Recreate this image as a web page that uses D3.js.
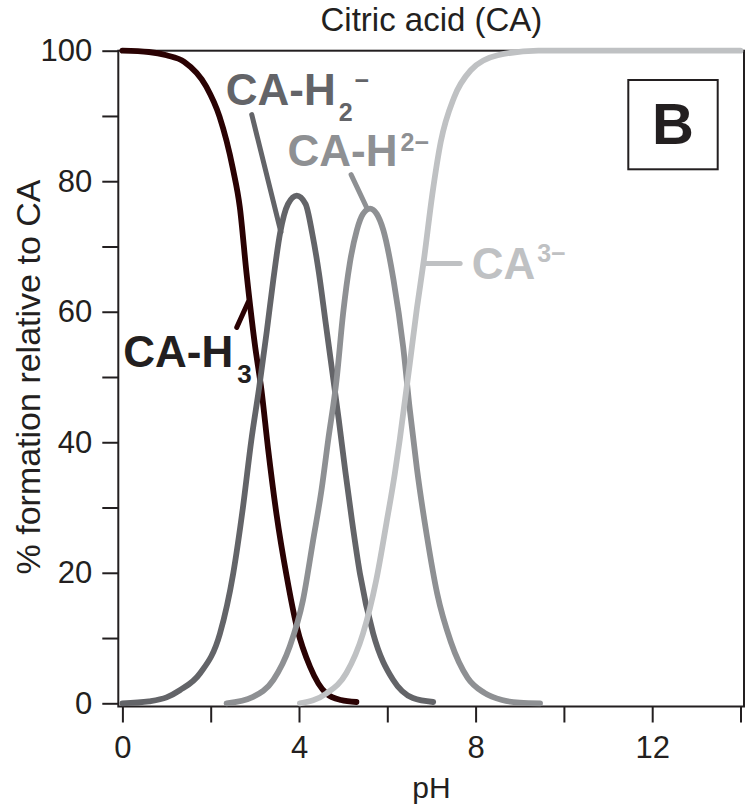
<!DOCTYPE html>
<html>
    <head>
        <meta charset="utf-8">
        <script src="https://d3js.org/d3.v7.min.js"></script>
        <style>
            body { margin: 0; background: #fff; }
            text { font-family: "Liberation Sans", Arial, Helvetica, sans-serif; }
        </style>
    </head>
    <body>
        <div id="my_dataviz"></div>
        <script>

            // values (pH, % formation)
            var caH3_pH  = [0, 0.6, 1.0, 1.4, 1.9, 2.2, 2.5, 2.66, 2.81, 3.0, 3.15, 3.3, 3.49, 3.72, 3.95, 4.25, 4.62, 4.95, 5.3];
            var caH3_pct = [100, 99.8, 99.3, 98.3, 94.5, 89.9, 82, 76, 66, 55, 48, 39, 29, 19.5, 11.7, 5.6, 1.5, 0.5, 0.2];

            var caH2_pH  = [0, 0.6, 1.0, 1.3, 1.76, 2.21, 2.51, 2.73, 2.92, 3.1, 3.27, 3.42, 3.57, 3.75, 3.95, 4.15, 4.3, 4.45, 4.6, 4.75, 4.9, 5.05, 5.2, 5.38, 5.68, 6.13, 6.58, 7.04];
            var caH2_pct = [0, 0.3, 0.9, 2.0, 4.6, 10.7, 19.9, 30, 40.3, 48.5, 57, 65, 72, 76.5, 77.8, 76.5, 72, 66, 58.5, 51, 43.5, 35.5, 28, 19.9, 10.7, 3.6, 0.8, 0.2];

            var caH_pH  = [2.36, 2.96, 3.42, 3.79, 4.09, 4.32, 4.51, 4.66, 4.85, 5.0, 5.15, 5.31, 5.45, 5.61, 5.76, 5.91, 6.14, 6.36, 6.51, 6.67, 6.9, 7.13, 7.44, 7.82, 8.2, 8.6, 9.0, 9.46];
            var caH_pct = [0, 1.0, 3.6, 8.7, 15.8, 25, 32.7, 40.3, 49.5, 59.8, 67.4, 72.5, 75, 75.8, 75, 72.5, 64.9, 54.6, 45, 36, 25.5, 16.8, 9.4, 3.9, 1.6, 0.5, 0.1, 0];

            var ca_pH  = [4.02, 4.62, 5.07, 5.45, 5.75, 5.98, 6.17, 6.28, 6.36, 6.51, 6.67, 6.83, 7.02, 7.21, 7.51, 7.89, 8.5, 9.42, 14];
            var ca_pct = [0, 1.5, 4.6, 10.7, 18.9, 27.6, 35.2, 40.3, 44.4, 52.1, 60.5, 68, 78, 86, 92.8, 97, 99.3, 100, 100];

            var xTicks = [0, 2, 4, 6, 8, 10, 12, 14];
            var xLabels = [0, 4, 8, 12];
            var yTicks = [0, 10, 20, 30, 40, 50, 60, 70, 80, 90, 100];
            var yLabels = [0, 20, 40, 60, 80, 100];

            var width = 749,
                height = 810;

            var svg = d3.select("#my_dataviz")
                .append("svg")
                    .attr("width", width)
                    .attr("height", height);

            var x = d3.scaleLinear().domain([0, 14]).range([122.4, 740.5]);
            var y = d3.scaleLinear().domain([0, 100]).range([703.3, 50.7]);

            var ink = "#231f20";
            var frameLeft = 118.3, frameRight = 744, frameBottom = 706.5;

            // frame
            svg.append("rect")
                .attr("x", frameLeft)
                .attr("y", y(100))
                .attr("width", frameRight - frameLeft)
                .attr("height", frameBottom - y(100))
                .attr("fill", "none")
                .attr("stroke", ink)
                .attr("stroke-width", 2);

            // axes
            var yAxis = svg.append("g")
                .attr("transform", `translate(${frameLeft},0)`)
                .call(d3.axisLeft(y).tickValues(yTicks).tickSize(16).tickPadding(10)
                    .tickFormat(d => yLabels.includes(d) ? d : ""));
            var xAxis = svg.append("g")
                .attr("transform", `translate(0,${frameBottom})`)
                .call(d3.axisBottom(x).tickValues(xTicks).tickSize(16).tickPadding(13)
                    .tickFormat(d => xLabels.includes(d) ? d : ""));

            [yAxis, xAxis].forEach(function(g) {
                g.select(".domain").remove();
                g.selectAll("line").attr("stroke", ink).attr("stroke-width", 2);
                g.selectAll("text")
                    .attr("fill", ink)
                    .style("font-family", '"Liberation Sans", Arial, sans-serif')
                    .style("font-size", "31px");
            });

            // titles
            svg.append("text")
                .attr("x", (x(0) + x(14)) / 2)
                .attr("y", 31)
                .attr("text-anchor", "middle")
                .attr("fill", ink)
                .style("font-size", "33px")
                .text("Citric acid (CA)");

            svg.append("text")
                .attr("x", (x(0) + x(14)) / 2)
                .attr("y", 798)
                .attr("text-anchor", "middle")
                .attr("fill", ink)
                .style("font-size", "30px")
                .text("pH");

            svg.append("text")
                .attr("transform", `translate(40,${(y(0) + y(100)) / 2}) rotate(-90)`)
                .attr("text-anchor", "middle")
                .attr("fill", ink)
                .style("font-size", "34px")
                .text("% formation relative to CA");

            // curves
            var series = [
                { pH: caH3_pH, pct: caH3_pct, color: "#2a0203" },
                { pH: caH2_pH, pct: caH2_pct, color: "#636468" },
                { pH: caH_pH,  pct: caH_pct,  color: "#8e9093" },
                { pH: ca_pH,   pct: ca_pct,   color: "#bfc1c3" }
            ];

            var line = d3.line()
                .x(d => x(d[0]))
                .y(d => y(d[1]))
                .curve(d3.curveMonotoneX);

            // leader lines (pH, %)
            var leaders = [
                { from: [2.59, 57.6], to: [2.85, 61.5], color: "#2a0203" },
                { from: [2.93, 90.2], to: [3.59, 72.2], color: "#636468" },
                { from: [5.18, 81.0], to: [5.53, 76.0], color: "#8e9093" },
                { from: [6.82, 67.4], to: [7.65, 67.4], color: "#bfc1c3" }
            ];

            svg.selectAll("leaders")
                .data(leaders)
                .join("line")
                    .attr("x1", d => x(d.from[0]))
                    .attr("y1", d => y(d.from[1]))
                    .attr("x2", d => x(d.to[0]))
                    .attr("y2", d => y(d.to[1]))
                    .attr("stroke", d => d.color)
                    .attr("stroke-width", 5)
                    .attr("stroke-linecap", "round");

            svg.selectAll("curves")
                .data(series)
                .join("path")
                    .attr("d", d => line(d3.zip(d.pH, d.pct)))
                    .attr("fill", "none")
                    .attr("stroke", d => d.color)
                    .attr("stroke-width", 5.8)
                    .attr("stroke-linecap", "round")
                    .attr("stroke-linejoin", "round");

            // species labels: main text, then script part
            var labels = [
                { at: [2.34, 91.7], main: "CA-H", script: "2", dy: 16, dx: 3, size: 25, extra: "\u2212", extraDy: -32, color: "#636468" },
                { at: [3.74, 82.4], main: "CA-H", script: "2\u2212", dy: -15, dx: 3, size: 25, color: "#8e9093" },
                { at: [0.02, 51.5], main: "CA-H", script: "3", dy: 16, dx: 4, size: 26, color: ink },
                { at: [7.91, 65.0], main: "CA", script: "3\u2212", dy: -17, dx: 2, size: 25, color: "#bfc1c3" }
            ];

            labels.forEach(function(l) {
                var t = svg.append("text")
                    .attr("x", x(l.at[0]))
                    .attr("y", y(l.at[1]))
                    .attr("fill", l.color)
                    .style("font-weight", "bold")
                    .style("font-size", "44px");
                t.append("tspan").text(l.main);
                t.append("tspan")
                    .attr("dx", l.dx)
                    .attr("dy", l.dy)
                    .style("font-size", l.size + "px")
                    .text(l.script);
                if (l.extra) {
                    t.append("tspan")
                        .attr("dx", 2)
                        .attr("dy", l.extraDy)
                        .style("font-size", l.size + "px")
                        .text(l.extra);
                }
            });

            // panel letter
            svg.append("rect")
                .attr("x", 628.3)
                .attr("y", 80)
                .attr("width", 89.4)
                .attr("height", 89.3)
                .attr("fill", "none")
                .attr("stroke", ink)
                .attr("stroke-width", 2);

            svg.append("text")
                .attr("x", 673)
                .attr("y", 144)
                .attr("text-anchor", "middle")
                .attr("fill", ink)
                .style("font-weight", "bold")
                .style("font-size", "58px")
                .text("B");
        </script>
    </body>
</html>
